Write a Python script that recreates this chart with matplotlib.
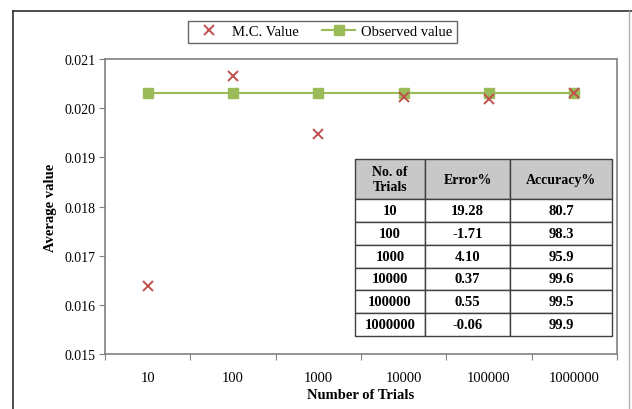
import numpy as np
import matplotlib
matplotlib.use("Agg")
import matplotlib.pyplot as plt
from matplotlib.lines import Line2D

plt.rcParams["font.family"] = ["Liberation Serif", "DejaVu Serif"]

trials = ["10", "100", "1000", "10000", "100000", "1000000"]
mc_value = [0.01639, 0.02065, 0.01947, 0.02023, 0.02019, 0.02031]
observed = [0.0203, 0.0203, 0.0203, 0.0203, 0.0203, 0.0203]
error_pct = ["19.28", "-1.71", "4.10", "0.37", "0.55", "-0.06"]
accuracy_pct = ["80.7", "98.3", "95.9", "99.6", "99.5", "99.9"]

GREEN = "#9BBB59"
RED = "#C0504D"

fig = plt.figure(figsize=(6.32, 4.10), dpi=100)
ax = fig.add_axes([105 / 632, 55 / 410, 512 / 632, 295 / 410])

x = np.arange(len(trials))
ax.plot(x, observed, color=GREEN, lw=1.5, marker="s", ms=7,
        mec=GREEN, mfc=GREEN, label="Observed value", zorder=3)
ax.plot(x, mc_value, ls="none", marker="x", ms=7, mew=1.4,
        color=RED, label="M.C. Value", zorder=4)

ax.set_xlim(-0.5, len(trials) - 0.5)
ax.set_ylim(0.015, 0.021)
ax.set_yticks(np.arange(0.015, 0.0211, 0.001))
ax.set_yticklabels([f"{v:.3f}" for v in np.arange(0.015, 0.0211, 0.001)])
ax.set_xticks(np.arange(-0.5, len(trials)), labels=[""] * (len(trials) + 1))
ax.set_xticks(x, labels=trials, minor=True)
ax.tick_params(axis="x", which="minor", length=0, pad=12, labelsize=10.5)
ax.tick_params(axis="x", which="major", length=4, color="#808080")
ax.tick_params(axis="y", length=4, color="#808080", labelsize=10, pad=3)
for s in ax.spines.values():
    s.set_color("#808080")
    s.set_linewidth(1.2)

ax.set_xlabel("Number of Trials", fontweight="bold", fontsize=10.5, labelpad=3)
ax.set_ylabel("Average value", fontweight="bold", fontsize=10.5, labelpad=5)

# legend order as in the reference
h, l = ax.get_legend_handles_labels()
leg = fig.legend(h[::-1], l[::-1], loc="center", bbox_to_anchor=(0.51, 0.92),
                 ncol=2, frameon=True, fancybox=False, fontsize=10.5,
                 handlelength=2.3, columnspacing=1.6, borderpad=0.3,
                 handletextpad=0.4)
leg.get_frame().set_edgecolor("#404040")
leg.get_frame().set_linewidth(1.0)

# table inside the plot
rows = [["No. of\nTrials", "Error%", "Accuracy%"]]
rows += [[t, e, a] for t, e, a in zip(trials, error_pct, accuracy_pct)]
tbl = ax.table(cellText=rows, cellLoc="center",
               bbox=[(355 - 105) / 512, 18 / 295, 257 / 512, 177 / 295],
               zorder=5)
tbl.auto_set_font_size(False)
widths = [70, 85, 102]
for (r, c), cell in tbl.get_celld().items():
    cell.set_width(widths[c])
    cell.set_height(40 if r == 0 else 22.8)
    cell.set_edgecolor("#404040")
    cell.set_linewidth(1.0)
    cell.get_text().set_fontsize(10.5)
    cell.get_text().set_fontweight("bold")
    if r == 0:
        cell.set_facecolor("#C8C8C8")
        cell.get_text().set_fontsize(10)

# outer frame
fig.add_artist(Line2D([13 / 632, 13 / 632], [0, 1 - 12 / 410], color="#303030", lw=1.2))
fig.add_artist(Line2D([13 / 632, 1], [1 - 12 / 410, 1 - 12 / 410], color="#303030", lw=1.2))
fig.add_artist(Line2D([629 / 632, 629 / 632], [0, 1 - 12 / 410], color="#B0B0B0", lw=1.0))

fig.savefig("out.png", dpi=100)
